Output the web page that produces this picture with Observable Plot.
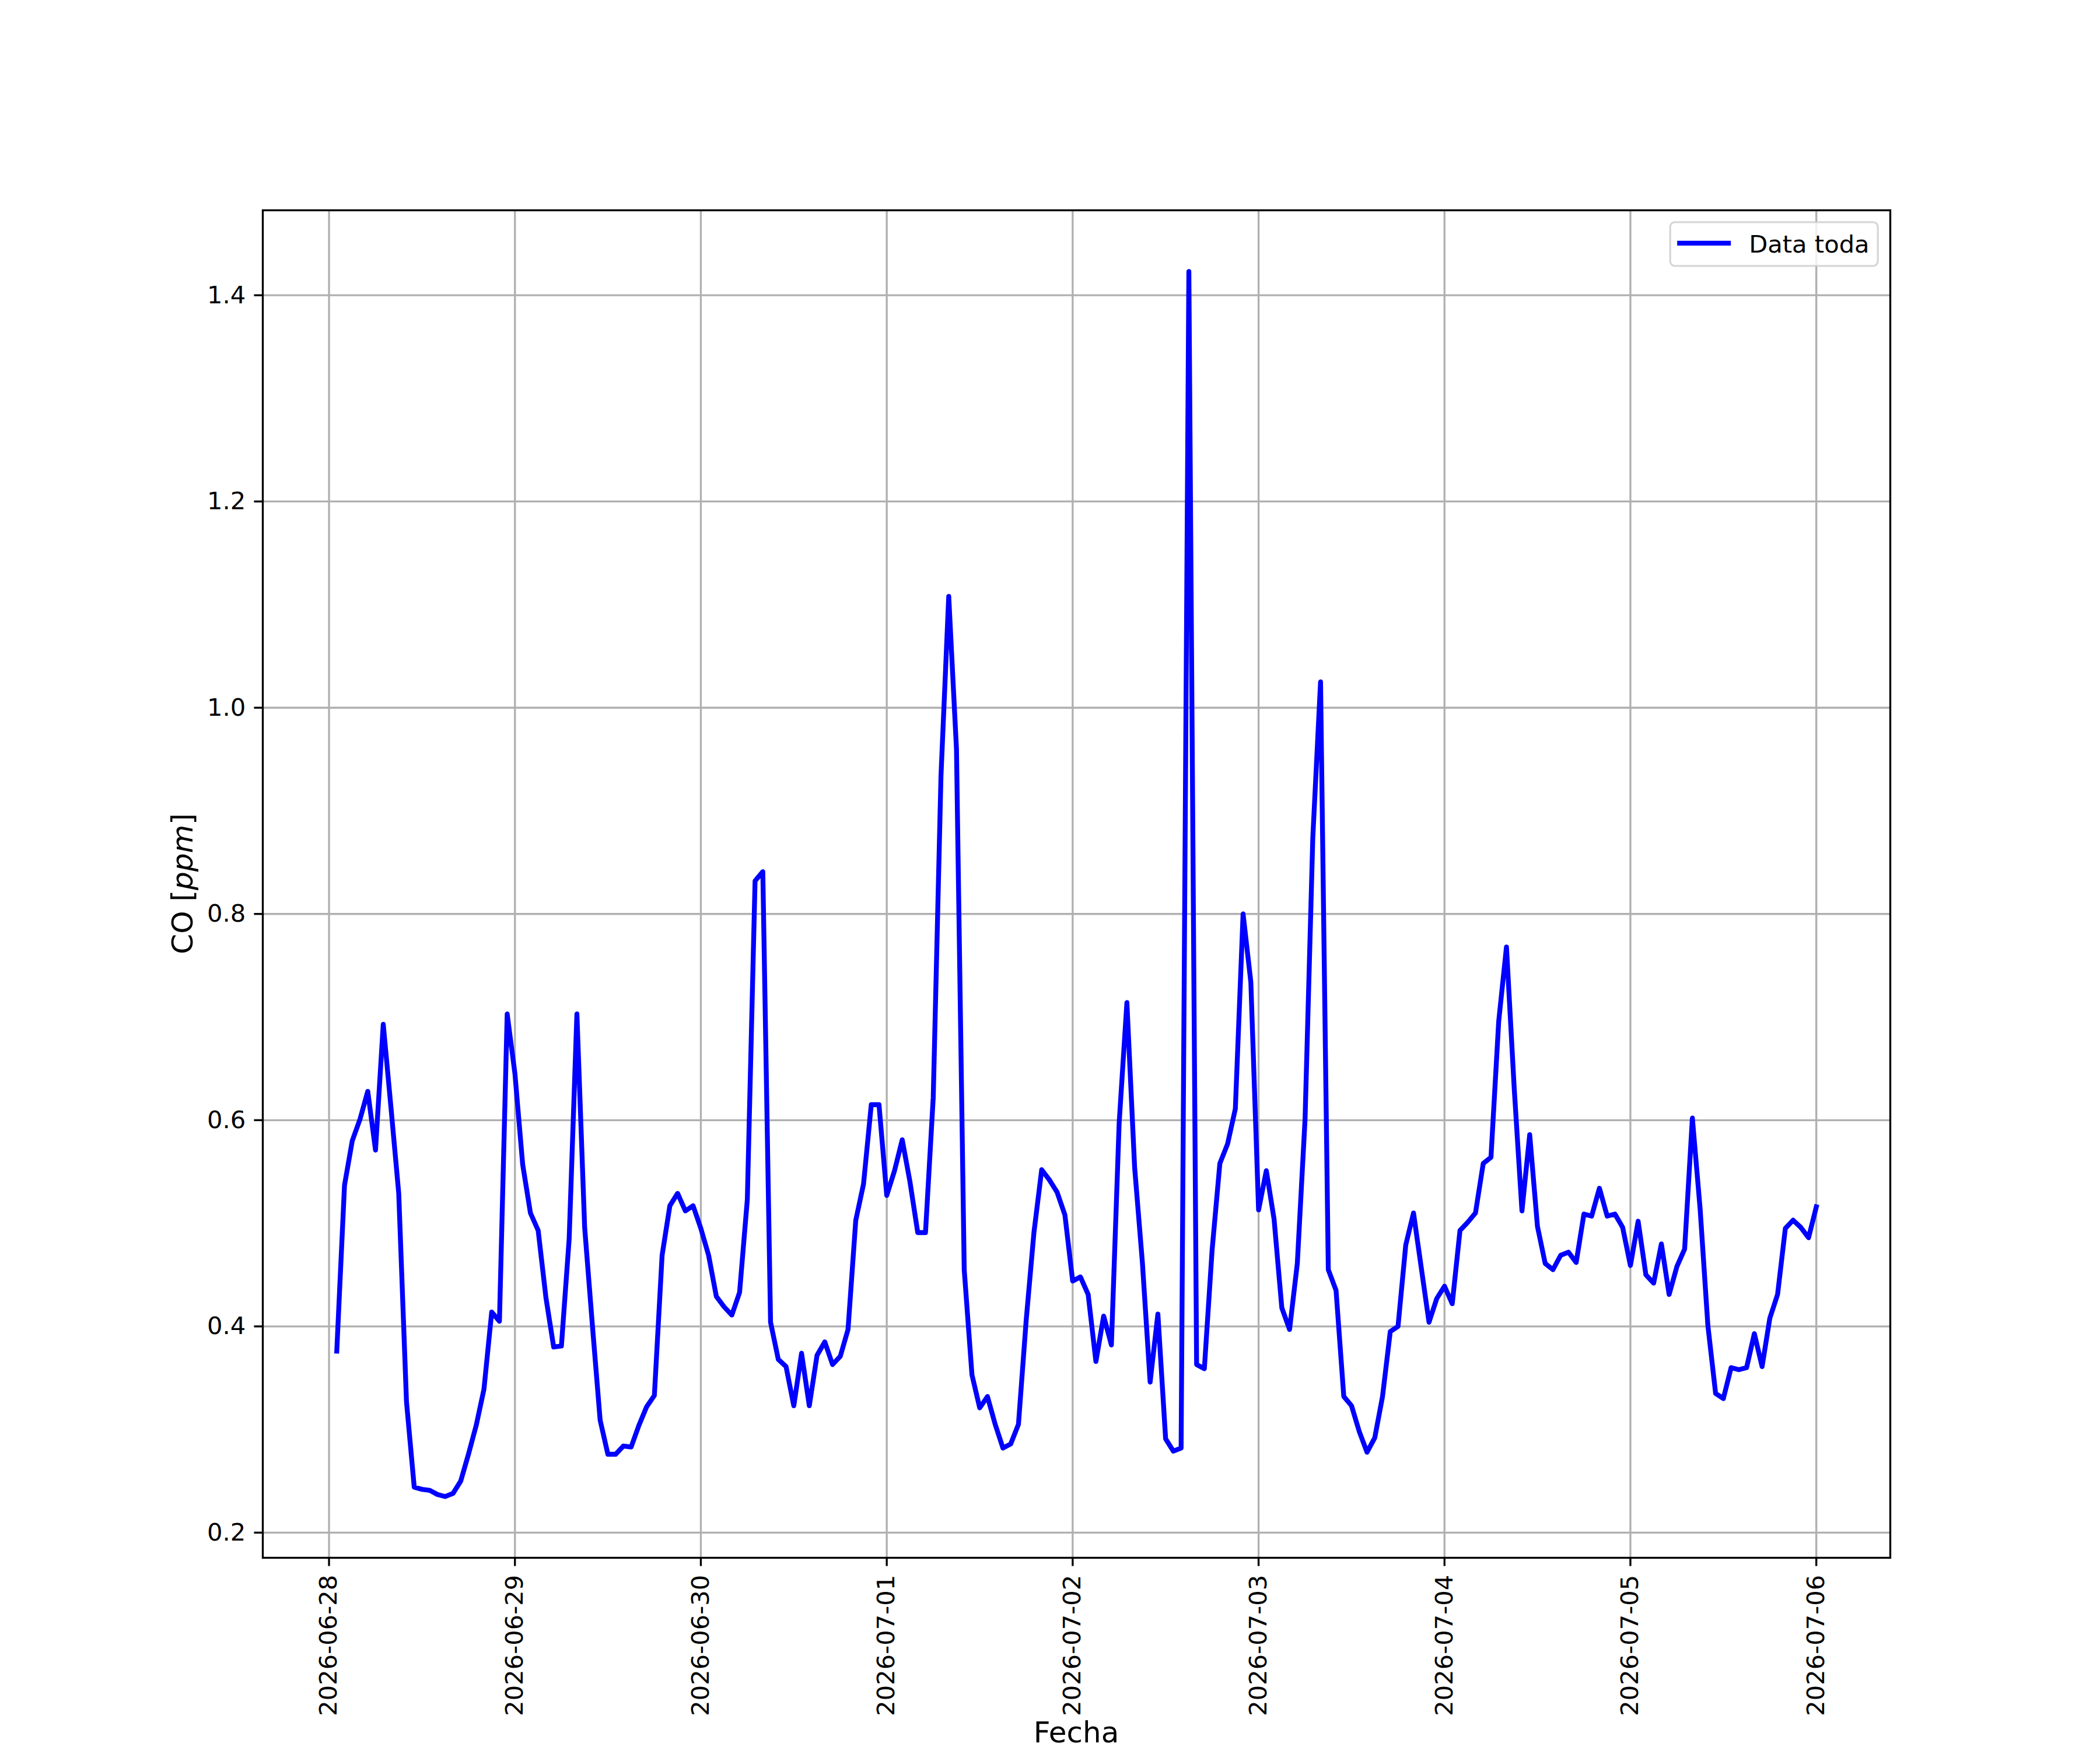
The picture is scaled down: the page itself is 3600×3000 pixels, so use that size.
<!DOCTYPE html>
<html>
<head>
<meta charset="utf-8">
<script src="https://cdn.jsdelivr.net/npm/d3@7"></script>
<script src="https://cdn.jsdelivr.net/npm/@observablehq/plot@0.6"></script>
<style>
  body { margin: 0; background: #ffffff; }
  #wrap { position: relative; width: 3600px; height: 3000px; }
</style>
</head>
<body>
<div id="wrap"></div>
<script>
// ---- data ----
const startTime = "2026-06-28T01:00:00Z";   // first hourly sample
const coValues = [
  0.376,0.537,0.580,0.601,0.628,0.571,0.693,0.612,0.529,0.327,0.244,0.242,0.241,0.237,0.235,0.238,0.250,0.276,0.304,0.339,0.414,0.405,0.703,0.645,
  0.557,0.510,0.493,0.428,0.380,0.381,0.485,0.703,0.496,0.401,0.309,0.276,0.276,0.284,0.283,0.304,0.322,0.333,0.469,0.517,0.529,0.512,0.517,0.495,
  0.469,0.429,0.419,0.411,0.433,0.523,0.832,0.841,0.404,0.368,0.361,0.323,0.374,0.323,0.372,0.385,0.363,0.371,0.397,0.503,0.538,0.615,0.615,0.527,
  0.551,0.581,0.540,0.491,0.491,0.622,0.934,1.108,0.960,0.455,0.353,0.321,0.332,0.305,0.282,0.286,0.305,0.406,0.491,0.552,0.542,0.530,0.508,0.444,
  0.448,0.431,0.366,0.410,0.382,0.597,0.714,0.554,0.462,0.346,0.412,0.291,0.279,0.282,1.423,0.363,0.359,0.474,0.558,0.577,0.611,0.800,0.734,0.513,
  0.551,0.504,0.418,0.397,0.461,0.601,0.874,1.025,0.455,0.435,0.332,0.323,0.298,0.278,0.292,0.332,0.395,0.400,0.479,0.510,0.457,0.404,0.427,0.439,
  0.422,0.493,0.501,0.510,0.558,0.564,0.696,0.768,0.631,0.512,0.586,0.497,0.461,0.455,0.469,0.472,0.462,0.509,0.507,0.534,0.507,0.509,0.496,0.459,
  0.502,0.450,0.442,0.480,0.431,0.458,0.475,0.602,0.514,0.401,0.335,0.330,0.360,0.358,0.360,0.393,0.361,0.408,0.431,0.495,0.503,0.496,0.486,0.516
];
const dayTicks = ["2026-06-28","2026-06-29","2026-06-30","2026-07-01","2026-07-02","2026-07-03","2026-07-04","2026-07-05","2026-07-06"];
const yTicks = [0.2, 0.4, 0.6, 0.8, 1.0, 1.2, 1.4];
const seriesName = "Data toda";
const xLabel = "Fecha";
const yLabelParts = [["CO [", "normal"], ["ppm", "italic"], ["]", "normal"]];

// ---- build table ----
const t0 = new Date(startTime).getTime();
const data = coValues.map((v, i) => ({ date: new Date(t0 + i * 3600e3), co: v }));
const dayDates = dayTicks.map(s => new Date(s + "T00:00:00Z"));

// matplotlib-like 5% margins
const xe = d3.extent(data, d => d.date.getTime());
const xm = (xe[1] - xe[0]) * 0.05;
const ye = d3.extent(data, d => d.co);
const ym = (ye[1] - ye[0]) * 0.05;

const W = 3600, H = 3000;
const mL = 450, mR = 360, mT = 360, mB = 330;
const pt = 300 / 72;

const chart = Plot.plot({
  width: W, height: H,
  marginLeft: mL, marginRight: mR, marginTop: mT, marginBottom: mB,
  style: { fontFamily: "DejaVu Sans", fontSize: (10 * pt) + "px", color: "black", background: "white", overflow: "visible" },
  x: { type: "utc", domain: [new Date(xe[0] - xm), new Date(xe[1] + xm)] },
  y: { type: "linear", domain: [ye[0] - ym, ye[1] + ym] },
  marks: [
    Plot.gridX(dayDates, { stroke: "#b0b0b0", strokeOpacity: 1, strokeWidth: 0.8 * pt }),
    Plot.gridY(yTicks, { stroke: "#b0b0b0", strokeOpacity: 1, strokeWidth: 0.8 * pt }),
    Plot.lineY(data, { x: "date", y: "co", stroke: "#0000ff", strokeWidth: 2 * pt, strokeLinejoin: "round", strokeLinecap: "square" }),
    Plot.frame({ stroke: "black", strokeWidth: 0.8 * pt }),
    Plot.axisX(dayDates, {
      tickFormat: d3.utcFormat("%Y-%m-%d"), tickRotate: -90,
      tickSize: 3.5 * pt, tickPadding: 3.5 * pt, strokeWidth: 0.8 * pt,
      fontSize: 10 * pt, label: null
    }),
    Plot.axisY(yTicks, {
      tickFormat: d3.format(".1f"),
      tickSize: 3.5 * pt, tickPadding: 3.5 * pt, strokeWidth: 0.8 * pt,
      fontSize: 10 * pt, label: null
    })
  ]
});

const svg = d3.select(chart);
const frameCx = (mL + (W - mR)) / 2;
const frameCy = (mT + (H - mB)) / 2;

// x label
svg.append("text")
  .attr("x", frameCx).attr("y", 2987)
  .attr("text-anchor", "middle")
  .attr("font-size", 12 * pt)
  .attr("fill", "black")
  .text(xLabel);

// y label
const yl = svg.append("text")
  .attr("transform", `translate(330,${frameCy}) rotate(-90)`)
  .attr("text-anchor", "middle")
  .attr("font-size", 12 * pt)
  .attr("fill", "black");
yLabelParts.forEach(([t, s]) => yl.append("tspan").attr("font-style", s).text(t));

// legend (upper right)
const fs = 10 * pt;
const lgRight = W - mR - 0.5 * fs, lgTop = mT + 0.5 * fs;
const lgW = 356, lgH = 75;
const lg = svg.append("g");
lg.append("rect")
  .attr("x", lgRight - lgW).attr("y", lgTop)
  .attr("width", lgW).attr("height", lgH)
  .attr("rx", 8).attr("ry", 8)
  .attr("fill", "white").attr("fill-opacity", 0.8)
  .attr("stroke", "#cccccc").attr("stroke-opacity", 0.8).attr("stroke-width", 0.8 * pt);
lg.append("line")
  .attr("x1", lgRight - lgW + 12).attr("x2", lgRight - lgW + 104)
  .attr("y1", lgTop + 36).attr("y2", lgTop + 36)
  .attr("stroke", "#0000ff").attr("stroke-width", 2 * pt);
lg.append("text")
  .attr("x", lgRight - lgW + 135).attr("y", lgTop + 52)
  .attr("text-anchor", "start")
  .attr("font-size", fs).attr("fill", "black")
  .text(seriesName);

document.getElementById("wrap").appendChild(chart);
</script>
</body>
</html>
